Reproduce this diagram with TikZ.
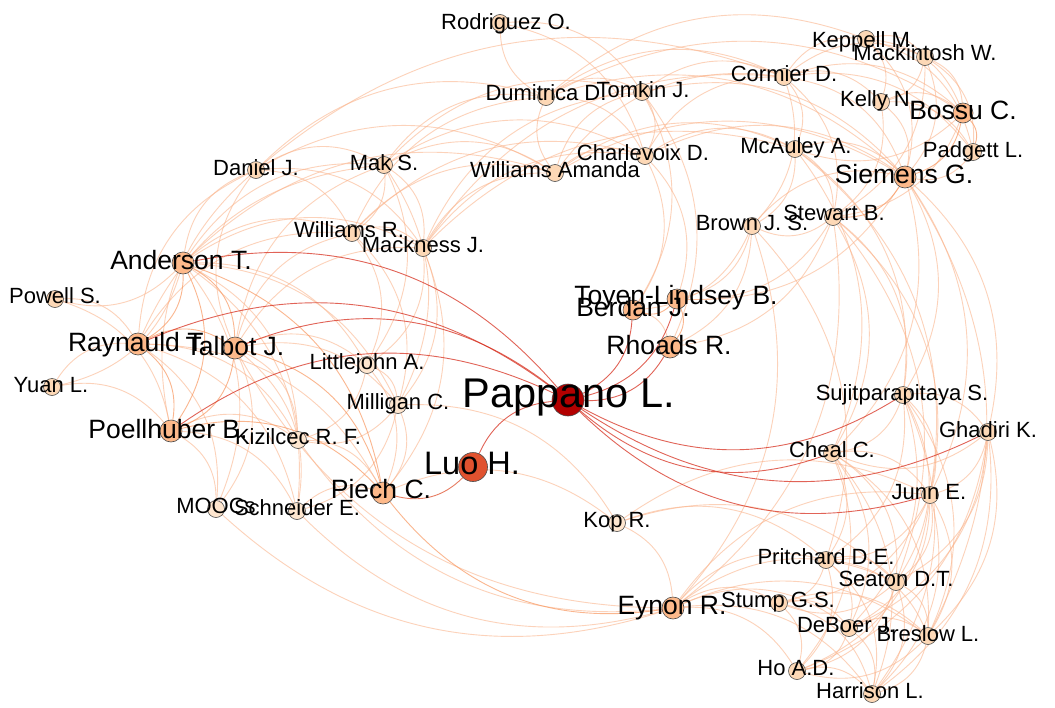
\documentclass[tikz,border=0pt]{standalone}
\usepackage{fontspec}
\setmainfont{Liberation Sans}
\usetikzlibrary{backgrounds}

\definecolor{hubred}{HTML}{B30000}
\definecolor{luored}{HTML}{E0522F}
\definecolor{midorange}{HTML}{FDB98A}
\definecolor{peach}{HTML}{FDD8B6}
\definecolor{palepeach}{HTML}{FEE6CF}
\definecolor{edgepeach}{HTML}{FBB48C}
\definecolor{edgeorange}{HTML}{F99860}
\definecolor{edgered}{HTML}{D7301F}

\tikzset{
  person/.style={circle, draw=black!70, line width=0.6pt, inner sep=0pt, minimum size=17pt, fill=peach},
  paleperson/.style={person, fill=palepeach},
  midperson/.style={person, minimum size=22pt, fill=midorange},
  tag/.style={anchor=base, inner sep=0pt, font=\fontsize{22}{24}\selectfont},
  bigtag/.style={tag, font=\fontsize{26.5}{28}\selectfont},
  link/.style={draw=edgepeach, line width=0.9pt, opacity=0.6, bend left=30},
  strong link/.style={link, draw=edgeorange, opacity=0.7},
  hub link/.style={draw=edgered, line width=0.9pt, opacity=0.75, bend left=30}
}

\begin{document}
\begin{tikzpicture}[x=1pt, y=-1pt]
\useasboundingbox (0,0) rectangle (1055,707);

% authors
\node[person, minimum size=32pt, fill=hubred] (pappano) at (568,400) {};
\node[person, minimum size=29pt, fill=luored] (luo) at (473,467) {};
\node[midperson] (anderson) at (183,263) {};
\node[midperson] (raynauld) at (138,344) {};
\node[midperson] (talbot) at (235,348) {};
\node[midperson] (poellhuber) at (171,431) {};
\node[midperson] (piech) at (383,493) {};
\node[midperson, minimum size=20pt] (bossu) at (963,113) {};
\node[midperson] (siemens) at (905,177) {};
\node[midperson, minimum size=20pt] (toyen) at (677,299) {};
\node[midperson, minimum size=20pt] (berdan) at (633,310) {};
\node[midperson] (rhoads) at (670,347) {};
\node[midperson] (eynon) at (673,608) {};
\node[person] (rodriguez) at (500,23) {};
\node[person] (dumitrica) at (546,97) {};
\node[person] (tomkin) at (642,92) {};
\node[person] (cormier) at (784,77) {};
\node[person] (keppell) at (866,39) {};
\node[person] (mackintosh) at (925,57) {};
\node[person] (kelly) at (881,102) {};
\node[person] (padgett) at (973,152) {};
\node[person] (mcauley) at (795,149) {};
\node[person] (charlevoix) at (645,156) {};
\node[person] (williamsA) at (555,173) {};
\node[person] (daniel) at (256,170) {};
\node[person] (mak) at (384,165) {};
\node[person] (williamsR) at (352,233) {};
\node[person] (mackness) at (423,248) {};
\node[person] (brown) at (752,226) {};
\node[person] (stewart) at (833,217) {};
\node[person] (powell) at (55,299) {};
\node[person] (yuan) at (52,387) {};
\node[paleperson] (littlejohn) at (367,365) {};
\node[paleperson] (milligan) at (398,405) {};
\node[paleperson] (kizilcec) at (298,440) {};
\node[paleperson] (moocs) at (216,509) {};
\node[paleperson] (schneider) at (297,511) {};
\node[paleperson] (kop) at (617,523) {};
\node[person] (sujit) at (903,395) {};
\node[person] (ghadiri) at (988,432) {};
\node[person] (cheal) at (832,453) {};
\node[person] (junn) at (930,495) {};
\node[person] (pritchard) at (826,560) {};
\node[person] (seaton) at (896,582) {};
\node[person] (stump) at (779,603) {};
\node[person] (deboer) at (849,628) {};
\node[person] (breslow) at (928,636) {};
\node[person] (ho) at (797,671) {};
\node[person] (harrison) at (872,694) {};

% names
\node[tag, font=\fontsize{41.5}{44}\selectfont] (pappano-t) at (569,407) {Pappano L.};
\node[tag, font=\fontsize{32.5}{35}\selectfont] (luo-t) at (472,474) {Luo H.};
\node[bigtag] (anderson-t) at (181,269) {Anderson T.};
\node[bigtag] (raynauld-t) at (138,351) {Raynauld T.};
\node[bigtag] (talbot-t) at (235,355) {Talbot J.};
\node[bigtag] (poellhuber-t) at (168,438) {Poellhuber B.};
\node[bigtag] (piech-t) at (381,498) {Piech C.};
\node[bigtag] (bossu-t) at (963,119) {Bossu C.};
\node[bigtag] (siemens-t) at (904,183) {Siemens G.};
\node[bigtag] (toyen-t) at (676,304) {Toyen-Lindsey B.};
\node[bigtag] (berdan-t) at (633,316) {Berdan J.};
\node[bigtag] (rhoads-t) at (669,354) {Rhoads R.};
\node[bigtag] (eynon-t) at (672,614) {Eynon R.};
\node[tag] (rodriguez-t) at (506,29) {Rodriguez O.};
\node[tag] (dumitrica-t) at (546,100) {Dumitrica D.};
\node[tag] (tomkin-t) at (643,97) {Tomkin J.};
\node[tag] (cormier-t) at (784,81) {Cormier D.};
\node[tag] (keppell-t) at (864,47) {Keppell M.};
\node[tag] (mackintosh-t) at (925,60) {Mackintosh W.};
\node[tag] (kelly-t) at (878,106) {Kelly N.};
\node[tag] (padgett-t) at (973,157) {Padgett L.};
\node[tag] (mcauley-t) at (796,153) {McAuley A.};
\node[tag] (charlevoix-t) at (643,160) {Charlevoix D.};
\node[tag] (williamsA-t) at (555,177) {Williams Amanda};
\node[tag] (daniel-t) at (256,175) {Daniel J.};
\node[tag] (mak-t) at (384,170) {Mak S.};
\node[tag] (williamsR-t) at (349,237) {Williams R.};
\node[tag] (mackness-t) at (423,252) {Mackness J.};
\node[tag] (brown-t) at (752,230) {Brown J. S.};
\node[tag] (stewart-t) at (834,220) {Stewart B.};
\node[tag] (powell-t) at (55,303) {Powell S.};
\node[tag] (yuan-t) at (51,392) {Yuan L.};
\node[tag] (littlejohn-t) at (367,369) {Littlejohn A.};
\node[tag] (milligan-t) at (398,409) {Milligan C.};
\node[tag] (kizilcec-t) at (298,444) {Kizilcec R. F.};
\node[tag] (moocs-t) at (216,513) {MOOCs};
\node[tag] (schneider-t) at (297,515) {Schneider E.};
\node[tag] (kop-t) at (617,527) {Kop R.};
\node[tag] (sujit-t) at (902,400) {Sujitparapitaya S.};
\node[tag] (ghadiri-t) at (988,437) {Ghadiri K.};
\node[tag] (cheal-t) at (832,457) {Cheal C.};
\node[tag] (junn-t) at (929,499) {Junn E.};
\node[tag] (pritchard-t) at (826,564) {Pritchard D.E.};
\node[tag] (seaton-t) at (896,586) {Seaton D.T.};
\node[tag] (stump-t) at (778,607) {Stump G.S.};
\node[tag] (deboer-t) at (846,632) {DeBoer J.};
\node[tag] (breslow-t) at (928,641) {Breslow L.};
\node[tag] (ho-t) at (796,675) {Ho A.D.};
\node[tag] (harrison-t) at (870,698) {Harrison L.};

\begin{pgfonlayer}{background}
\fill[white] (0,0) rectangle (1055,707);
% co-author links
\foreach \a/\b in {anderson/daniel, anderson/mak, anderson/williamsR, anderson/mackness, anderson/powell,
  anderson/kizilcec, anderson/moocs, anderson/schneider, anderson/yuan, anderson/littlejohn, anderson/milligan,
  anderson/williamsA, raynauld/daniel, raynauld/mak, raynauld/williamsR, powell/raynauld, yuan/raynauld,
  raynauld/kizilcec, raynauld/moocs, raynauld/schneider, raynauld/piech, talbot/daniel, talbot/mak,
  talbot/williamsR, talbot/mackness, talbot/kizilcec, talbot/moocs, talbot/schneider, talbot/littlejohn,
  talbot/milligan, yuan/poellhuber, powell/poellhuber, poellhuber/kizilcec, poellhuber/moocs,
  poellhuber/schneider, poellhuber/daniel, kizilcec/piech, schneider/piech, littlejohn/piech, milligan/piech,
  piech/kop, mackness/piech, littlejohn/milligan, littlejohn/kizilcec, mackness/littlejohn,
  williamsR/littlejohn, mak/littlejohn, milligan/kizilcec, milligan/schneider, williamsR/milligan,
  mackness/milligan, mak/milligan, daniel/mak, daniel/williamsR, daniel/mackness, daniel/williamsA,
  daniel/dumitrica, daniel/cormier, mak/williamsR, mak/mackness, mak/williamsA, mak/dumitrica, mak/tomkin,
  mak/charlevoix, williamsR/mackness, williamsR/williamsA, williamsR/charlevoix, williamsR/dumitrica,
  mackness/williamsA, mackness/charlevoix, mackness/tomkin, mackness/mcauley, mackness/cormier,
  williamsA/dumitrica, williamsA/tomkin, williamsA/charlevoix, williamsA/cormier, williamsA/mcauley,
  williamsA/siemens, dumitrica/rodriguez, dumitrica/tomkin, dumitrica/charlevoix, dumitrica/cormier,
  dumitrica/keppell, dumitrica/siemens, dumitrica/bossu, rodriguez/tomkin, rodriguez/charlevoix,
  tomkin/charlevoix, tomkin/cormier, tomkin/siemens, tomkin/rhoads, tomkin/berdan, charlevoix/cormier,
  charlevoix/mcauley, charlevoix/siemens, charlevoix/berdan, charlevoix/toyen}
  \draw[link] (\a) to (\b);
\foreach \a/\b in {cormier/keppell, cormier/mackintosh, cormier/kelly, cormier/bossu, cormier/siemens,
  cormier/mcauley, cormier/stewart, cormier/brown, cormier/padgett, keppell/mackintosh, keppell/kelly,
  keppell/bossu, keppell/siemens, keppell/padgett, mackintosh/kelly, mackintosh/bossu, mackintosh/siemens,
  mackintosh/padgett, mackintosh/stewart, kelly/bossu, kelly/siemens, kelly/padgett, kelly/stewart,
  bossu/stewart, bossu/mcauley, padgett/siemens, mcauley/siemens, brown/siemens, siemens/sujit,
  siemens/ghadiri, siemens/cheal, siemens/junn, siemens/breslow, mcauley/stewart, mcauley/brown,
  mcauley/cheal, mcauley/junn, mcauley/sujit, stewart/brown, stewart/toyen, stewart/rhoads, stewart/sujit,
  stewart/cheal, stewart/junn, stewart/seaton, stewart/eynon, brown/toyen, brown/berdan, brown/rhoads,
  brown/eynon, brown/pritchard, berdan/rhoads, siemens/toyen}
  \draw[link] (\a) to (\b);
\foreach \a/\b in {sujit/ghadiri, sujit/cheal, sujit/junn, sujit/seaton, sujit/breslow, sujit/deboer,
  sujit/harrison, sujit/pritchard, ghadiri/cheal, ghadiri/junn, ghadiri/seaton, ghadiri/breslow,
  ghadiri/deboer, ghadiri/harrison, ghadiri/ho, cheal/junn, cheal/pritchard, cheal/seaton, cheal/deboer,
  cheal/breslow, cheal/harrison, cheal/ho, junn/pritchard, junn/seaton, junn/breslow, junn/deboer, junn/ho,
  junn/harrison, junn/stump, pritchard/seaton, pritchard/stump, pritchard/deboer, pritchard/breslow,
  pritchard/ho, pritchard/harrison, seaton/stump, seaton/deboer, seaton/breslow, seaton/ho, seaton/harrison,
  stump/deboer, stump/breslow, stump/ho, stump/harrison, deboer/breslow, deboer/ho, deboer/harrison,
  breslow/ho, breslow/harrison, ho/harrison, eynon/pritchard, eynon/seaton, eynon/stump, eynon/deboer,
  eynon/breslow, eynon/ho, eynon/harrison, eynon/junn, kop/eynon, eynon/moocs, eynon/schneider,
  eynon/kizilcec, eynon/talbot, kop/pritchard, kop/seaton, kop/junn, milligan/kop}
  \draw[link] (\a) to (\b);
\foreach \a/\b in {anderson/raynauld, anderson/talbot, anderson/poellhuber, anderson/piech,
  raynauld/talbot, raynauld/poellhuber, talbot/poellhuber, talbot/piech, poellhuber/piech, eynon/piech,
  bossu/padgett, bossu/siemens, siemens/stewart, toyen/berdan, toyen/rhoads}
  \draw[strong link] (\a) to (\b);
% links of the hub
\foreach \a in {anderson, raynauld, talbot, poellhuber, luo, berdan, toyen, rhoads, sujit, cheal, ghadiri, junn}
  \draw[hub link] (\a) to (pappano);
\draw[hub link, draw=luored] (luo) to (piech);
\end{pgfonlayer}
\end{tikzpicture}
\end{document}
